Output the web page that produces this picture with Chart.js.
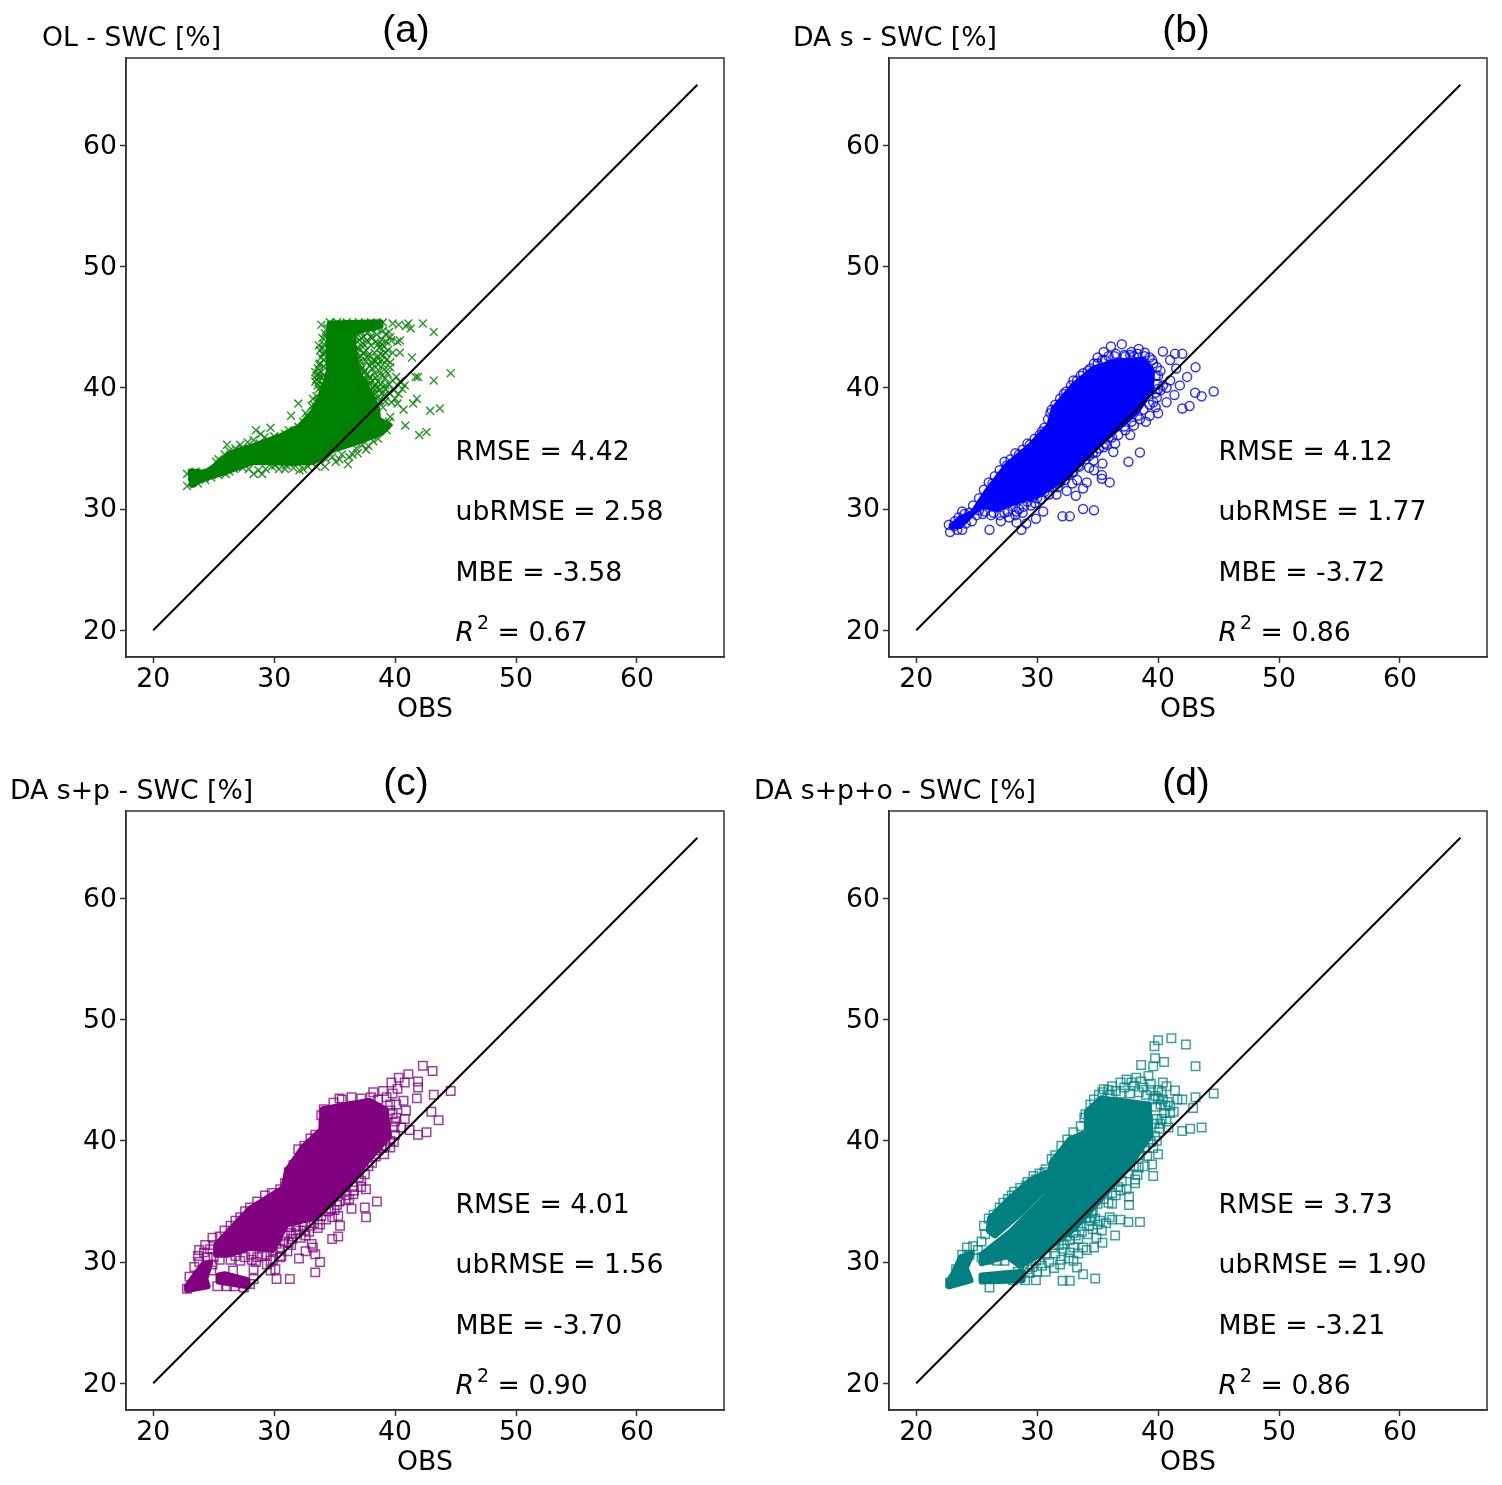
<!DOCTYPE html>
<html>
<head>
<meta charset="utf-8">
<script src="https://cdn.jsdelivr.net/npm/chart.js@4"></script>
<style>
  html, body { margin: 0; padding: 0; background: #fff; }
  #wrap { position: relative; width: 1502px; height: 1485px; overflow: hidden; }
  canvas { position: absolute; }
</style>
</head>
<body>
<div id="wrap">
  <canvas id="panelA" width="739" height="726" style="left:0;top:0"></canvas>
  <canvas id="panelB" width="762" height="726" style="left:740px;top:0"></canvas>
  <canvas id="panelC" width="739" height="726" style="left:0;top:753px"></canvas>
  <canvas id="panelD" width="762" height="726" style="left:740px;top:753px"></canvas>
</div>
<script>
const tickValues = [20, 30, 40, 50, 60];
const oneToOne = [[20, 20], [65, 65]];

// individual points, [OBS, SWC]
const olPoints = [
  [44.6,41.2],[43.2,40.6],[41.9,40.9],[41.7,40.9],[42.3,45.3],[43.2,44.6],[41.1,45.3],[41.3,44.9],[40.9,45.1],[41.4,42.5],[40.4,42.9],[40.4,43.9],[39.6,42.1],[41.8,39.1],[41.5,38.7],[40.7,38.2],[42.9,38.1],[43.7,38.3],[40.85,36.9],[42.6,36.35],[42,36.1],[39.6,37.6],
  [32,38.7],[31.4,37.7],[29.7,36.7],[28.5,36.5],[28.9,36.2],[26.1,35.3],[27.2,35.3],[36.1,33.7],[29,32.9],[28.3,32.9],[22.8,32.9],[22.8,31.9],[32.1,33.2],
  [33.9,45.2],[34.6,45.4],[35.2,45.4],[36,45.4],[37,45.4],[38,45.4],[39,45.4],[39.8,45.3],[40.3,45.2],
  [33.4,41.3],[33.5,41],[33.6,41.6],[33.7,40.5],[33.8,43.1],[33.9,41.3],[34,42.8],[34,43.3],[33.7,39.9],[33.4,40.5],[33.9,39.6],[34.2,44.5],[34.4,44.9],[34.1,42.3],[33.5,39.3],[33.8,42],
  [33.6,40.2],[33.8,40.9],[34,40.3],[34.1,41],[33.7,41.9],[33.9,42.5],[34.1,43.6],[34.2,42.9],[34.3,44.2],[34.1,41.8],[33.5,40.7],[34.2,40.6],[33.7,41.2],[34,39.9],[33.6,38.9],[33.9,38.7],[33.3,38.6],[33.2,39.1],[33.7,43.5],[34,44.1],
  [36.5,44.6],[36.8,44.2],[37.1,44.7],[37.4,44.2],[37.8,44.6],[38.1,44.1],[38.5,44.4],[38.9,44],[39.3,43.8],[39.7,43.9],[40.2,43.8],[36.6,43.5],[37,43.2],[37.3,43.7],[37.6,43.1],[38,43.5],[38.3,42.9],[38.7,43.3],[39,42.7],[39.4,43.1],[39.8,42.9],
  [36.5,42.5],[36.9,42],[37.2,42.6],[37.6,42.2],[37.9,41.8],[38.2,42.3],[38.6,41.9],[38.9,42.3],[36.7,41.2],[37.1,41],[37.5,41.4],[37.9,40.9],[38.3,41.2],[38.6,40.5],[38.9,41],[39.2,40.8],[39.5,40.3],[39.8,40.6],[40.1,40.9],[40.4,40.5],
  [37.2,40],[37.6,40.2],[38,39.8],[38.4,39.6],[38.8,39.9],[39.1,39.4],[39.5,39.6],[39.9,39.8],[40.3,39.5],[40.6,39.9],[40.8,40.2],[39.2,38.9],[39.7,38.8],[40,39.1],[40.2,38.7],[39,38.4],[38.7,38.9],
  [36.7,44.9],[37.3,45],[37.9,44.9],[38.5,44.9],[39,44.7],[39.5,44.6],[36.9,43.8],[37.7,43.9],[38.4,43.8],[39.1,43.4],[39.6,44.2],[36.7,43],[37,42.5],[37.4,42.9],[37.8,42.7],[38.1,42],[38.5,42.5],[38.8,42.8],[39.3,42.3],[36.9,40.7],[37.3,41.7],[37.7,41.1],[38.1,41.6],[38.4,40.8],[38.7,41.4],[39.1,41.5],[39.4,41.2],[37.9,40.3],[38.3,40.2],[38.8,40.3],[39.2,39.9],[37.4,39.4],[37.8,39.3],[38.2,39],[38.6,39.2],
  [36.6,44.3],[36.9,43.3],[37.2,44.1],[37.5,43.5],[36.8,42.8],[37.1,42.2],[37.4,41.2],[37.2,41.5],[37.7,42.5],[37.5,40.7],[37.8,40.6],[38.1,40.6],[38.2,40],[37,41.8],[36.8,41.6],[38,44.2],[38.6,43.6],[38.9,43.6],[39.2,44.4],[39.2,42.9],[38.4,42.2],[39,41.9],[39.6,41.7],[39.2,40.2],[38.5,40],[38.1,39.5],[38.9,39.5]
  ,[39,37],[39.5,37.2],[39.3,36.5],[38.6,35.8],[38.2,35.6],[37.8,35.2],[37.3,35.3],[36.8,35],[36.5,34.5],[35.6,34.5],[35.4,34.1],[34.8,34.3],[34.3,34.1],[33.8,33.9],[33.1,33.8],[32.4,33.3],[31,33.6],[30.4,33.3],[29.8,33.5],[27.4,33.4],[26.7,33.3],[26,32.9],[25.4,32.8],
  [37.6,34.9],[36.9,34.6],[36.2,34.3],[35.1,33.9],[34.2,33.5],[33.5,33.5],[32.8,33.5],[31.6,33.4],[30.9,33.3],[30.1,33.6],[29.3,33.3],[28.7,33.2],[27.9,33.3],[26.3,33.1],[25.7,33.1],[24.8,32.6],[24.3,32.4],[23.7,32.1],[23.2,32.2],[23.2,32.7],[23.5,33.1],[24,33],[24.5,33],
  [25.4,34.1],[25.9,34.5],[26.8,35],[27.8,35.5],[28.3,35.7],[29.2,35.9],[30,36],[30.9,36.2],[31.6,36.4],[32.4,37.2],[32.8,37.6],[33.1,38.5],[25.2,33.9],[26.3,34.8],[27.4,35],[28.8,35.4],[29.6,35.6],[30.5,35.9],[31.2,36.5],[32,36.8],[32.6,37.9]
];

const daSPoints = [
  [37,43.6],[36.1,43.4],[35.5,42.95],[35,42.5],[37.8,42.95],[38.4,43.2],[39.3,42.5],[40.4,43],[41.4,42.8],[42,42.8],[41,42.3],[43.1,41.7],[42.4,40.9],[41.8,40.2],[44.6,39.7],[43.6,39.3],[43.06,39.6],[41.35,39.4],[40.7,38.8],[42.6,38.5],[42,38.3],[40.2,39.8],[41,40.6],[41.5,41.6],[40.2,41.4],
  [39.8,38.4],[39.3,37.7],[38,36.9],[37.7,36.1],[36.45,35.4],[38.5,34.66],[37.55,33.9],[36.3,34.7],[35.76,35.3],[35.4,33.75],[34.66,34],[34.3,33.4],[34.7,33.2],[35.35,32.8],[35.35,32.5],[36,32.2],[34.1,32.2],[33.8,31.7],[33.3,32.4],[32.9,32.1],[33.2,31.1],[32.45,31.5],[31.6,31.2],[33.8,30],[34.7,29.9],[32.1,29.4],[32.7,29.4],[30.5,29.8],[29.9,29.2],[29.8,30.5],[29.1,28.8],[28.7,28.3],[28.3,28.9],[27,29],[26.06,28.3],[25,29.5],[22.8,28.1],[23.8,28.3],[22.7,28.7],
  [31.2,38.2],[32.2,39.5],[34.2,41.4],[30.4,36.4],[29.4,35.3],[28.5,34.5],[27.5,33.6],[26.3,32.1],[24.7,30.3],[23.8,29.8],[33,40.6],[33.6,41],[34.7,42],[35.6,42.3],[36.4,42.6],[37.2,42.7],[38,42.6],[38.9,42.6],[39.6,42],[40,41],[39.9,40.3],[40.4,40.2],[40.7,40],[39.9,39.2],[39.6,38.8],[40,37.9],[39,37.2],[38.5,37.4],[37.3,36.5],[36.7,36.1],[35.9,35.9],[35.5,35.1],[34.9,34.7],[34.3,34.4],[33.5,33.5],[33,33.1],[32.5,32.8],[31.9,32.2],[31.2,31.8],[30.6,31.4],[29.7,31],[29.2,30.6],[28.5,30],[28,30.2],[27.3,29.7],[26.4,29.7],[25.7,29.8],[25.2,29.9],[28.8,29.7],[28.2,29.5],[27.7,29.3],[30,30.9],
  [25.2,30.9],[25.6,31.6],[26,32.2],[26.5,32.7],[26.9,33.2],[27.3,33.9],[27.8,34.1],[28.2,34.6],[28.8,34.9],[29.2,35.4],[29.8,35.8],[30.2,36.1],[30.6,36.7],[30.9,37.4],[31.1,37.9],[31.5,38.6],[31.9,39.1],[32.4,39.7],[32.8,40.2],[33.3,40.6],[33.8,41.2],[34.4,41.6],[35,42],[35.4,42.3],[35.9,42.6],[36.5,42.8],[37.3,42.6],[37.7,42.7],[38.3,42.8],[38.9,42.9],[39.5,42.3],[39.9,41.7],[39.8,41],[40,39.9],[39.8,39.6],
  [39.3,38.6],[38.8,38.2],[38.3,37.7],[37.8,37.2],[37.2,36.8],[36.2,35.9],[35.6,35.4],[35.1,35],[34.6,34.6],[34,34.1],[33.4,33.6],[32.9,33],[32.3,32.4],[31.7,31.8],[31,31.2],[30.3,30.8],[29.5,30.3],[28.9,30.2],[28.3,29.8],[27.6,29.8],[26.9,29.5],[26.2,29.5],[25.5,29.6],[24.6,29],[24.1,28.8],[23.4,28.3],[23.1,28.6],[23.2,29],[23.5,29.3],[24,29.6],[24.4,29.7]
];

const daSpPoints = [
  [42.3,46.2],[43.1,45.75],[41.1,45.5],[40.3,45.2],[41.9,44.9],[44.6,44.1],[43.2,43.8],[41.8,43.5],[41.9,44.4],[40.8,44.8],[39.7,44.8],[39,44.1],[38.2,44],[40.7,43.3],[40.1,43],[40.9,42.5],[40.1,41.9],[40.8,41.8],[43,42.4],[43.6,41.7],[41.2,40.9],[42.6,40.7],[41.9,40.5],[39.9,41.1],[40.5,41.1],[39.6,39.45],[38.6,39.2],[38.1,38.2],[37.5,37.25],[37.6,36],[38.5,35],[37.5,34.5],[37.6,33.7],[36.4,34.4],[36.55,35.6],[35.3,33.8],[34.8,33.7],[35.45,33],[35.3,32.1],[34.8,31.9],[33.8,33.1],[33.1,31.5],[33.2,31.2],[32.6,30.9],[33.4,30.65],[33.8,30],[32.05,30.3],[33.4,29.15],[31.3,28.6],[30.2,28.6],[30.1,29.4],[30.5,30.4],[29.7,30.1],[28.3,29.4],[28.15,30.2],[26.1,28],[28,28.2],[23.7,30.5],[24.7,31.05],[22.8,27.8],
  [25.5,32.1],[26.4,33],[27.2,33.7],[28,34.5],[29.25,35.5],[30.5,36],[31.2,37.4],[32,39.3],[33.4,40.5],[34.1,41.6],[34.1,42.6],[34.9,43.15],[36.4,43.6],[37.2,43.5],[35.6,43.4],[33.9,42.1],[38.6,43.4],[39.3,43.6],[39.8,43.9],[40.2,44.3],[39.6,43],[39.8,42.2],[40,40.5],[39.6,40],[39.2,39.6],[38.4,38.7],[37.8,37.9],[37,37],[36.5,36.2],[36,35.5],[35.4,35],[34.7,34.4],[33.9,33.8],[33.3,33.2],[32.5,32.6],[31.8,32.3],[31.2,31.6],[30.5,31.1],[29.9,31],[29,30.5],[27.6,30.4],[26.8,30.5],[24.2,30.8],[25,31.4],[29.4,29.8],[29.7,29.3],[26.6,29.3],[24.9,29.8],
  [23.8,31],[24.3,31.4],[24.9,32],[25.9,32.6],[26.8,33.4],[27.6,34.2],[28.6,35],[29.8,35.7],[30.9,36.5],[31.6,38],[32.5,39.6],[33,40.2],[35.4,43.5],[38,43.6],[39.6,42.5],[40,41.6],[39.9,39.9],[39.1,38.9],[38.9,39.4],[37.2,36.7],[36.2,35.2],[35,34.3],[34.3,33.5],[33.6,32.8],[32.9,32.5],[32.2,32],[32.6,32.2],[31.5,31.9],[31.1,30.9],[30.6,30.5],[29.4,30.6],[28.6,30.4],[28.1,30.6],[27.2,30.1],[26.4,30.2],[25.5,30.2],[25,30.4],[24.5,30.4],[23.8,30],[23.4,29.6],[23,28.8],[24.8,29.3],[25.3,28],[26.7,28],[27.5,27.9],[28.3,28.6],[28.5,30],[29.9,30.2],
  [30.5,32.8],[31.2,32.9],[31.8,32.9],[32.4,33],[33,33],[30.3,32.1],[30.9,32.2],[31.4,32.4],[32,32.6],[30.2,31.5],[30.8,31.7],[31.4,31.4],[28.7,31.3],[29.3,31.4],[27.2,31.2],[27.8,31.5],[26.3,30.8],[26.9,31],[29.8,32],[34.5,34.2],[35.2,34.7],[35.9,35.1],[36.6,35.9],[37.2,36.2]
];

const daSpoPoints = [
  [41.1,48.45],[40,48.3],[39.7,47.8],[42.3,47.95],[39.75,46.8],[40.5,46.5],[38.6,46.25],[39.6,46.15],[43.1,46.15],[39.2,45.35],[38.2,45.2],[37.4,45.05],[36.9,44.8],[36.2,44.5],[35.5,44.25],[40.4,44.8],[40.7,44.5],[41.4,44.15],[44.6,43.9],[43.1,43.6],[42,43.4],[42.9,42.7],[41,42.9],[40.2,43],[39.9,41.8],[40.7,41.6],[42,40.8],[42.65,41],[43.6,41.1],[40.85,41.1],[39.75,40.4],[39.6,39.4],[39.1,38.75],[39.5,38.05],[39.6,37.1],[38.4,37.8],[38.1,36.8],[38.1,36.5],[37.4,36],[37.6,34.7],[36.9,35.9],[36.2,34.8],[37.55,33.3],[38.5,33.3],[36.45,32.2],[36.2,33.5],[35.2,33.4],[34.4,33.4],[35.35,32.6],[35.4,31.6],[34.7,31.2],[33.8,31.2],[33,31.2],[32.2,31.5],[32,30.2],[33,30.1],[33.3,29.55],[33.8,29],[34.8,28.65],[32.7,28.45],[32.1,28.45],[29.9,28.5],[30.4,29.7],[29,28.5],[26.06,27.9],[23.8,30.6],[22.8,28.3],
  [34.4,43],[34,42.2],[33,40.7],[31.2,38.5],[30.7,37.65],[29.7,37.1],[28.6,36.1],[27.6,35.2],[26.4,33.9],[25.7,32.3],[24.7,31.3],[35.1,43.8],[35.9,44.2],[37.8,44.8],[38.6,44.9],[39.4,44.7],[40,44.2],[40.3,44],[40.8,43.2],[41.6,43.4],[41.3,42.4],[40.5,42.3],[39.8,42.8],[40.1,41],[40,38.9],[38.9,37.9],[38.3,37.2],[37.6,35.4],[36.5,35.5],[35.9,34.9],[36.9,33.5],[35.7,33.2],[35,33.1],[34.6,32.7],[34.2,32.3],[33.4,31.9],[32.7,31.8],[31.5,30.7],[31,30],[30.2,30.2],[29.6,29.6],[28.8,29.9],[24.2,31.2],[25.4,31.7],[26.9,34.5],[28.1,35.8],[29.2,36.6],[30.2,37.3],
  [35.4,44],[36.5,44.1],[37.2,44.4],[38,44.5],[38.8,44.4],[39.4,44.2],[39.8,43.7],[36,43.8],[36.9,43.9],[37.7,43.9],[38.4,44],[39,43.8],[39.6,43.4],[40,43.5],[40.4,43.4],[40.6,42.9],[41,42.3],[40.3,41.8],[40.2,41.4],[39.7,41.4],[39.9,40],[39.4,39.9],[38.9,39.4],[38.5,38.8],[38,37.9],[37.5,37.3],[37,36.7],[36.7,36.2],[36.2,35.7],[35.5,35.2],[35,34.8],[34.5,34],[34,33.6],[33.4,33],[33,32.4],[32.4,32.1],[31.8,31.4],[31.3,31.2],[30.7,30.6],[29.9,30.1],[29.2,29.4],[28.4,29.2],[28,28.5],[27.3,30.1],[26.7,30.1],[26,30.2],[25.4,30.4],[25.1,31],[24.4,30.6],[23.9,30.1],[23.3,29.4],[33.6,33.7],[34.8,33.6],[36,33.7],[34.6,34.2],
  [25.6,33],[26,33.6],[26.8,34],[27.2,34.9],[27.9,35.5],[28.4,35.5],[29.1,36.3],[29.9,36.8],[30.6,37.4],[31.5,38.8],[32,39.6],[32.5,40.1],[33.6,41.2],[33.9,41.9],[34.7,43.4],
  [32.1,31.1],[32.7,30.8],[33.4,30.7],[34.1,31],[34.9,32],[33.7,32.5],[34.3,33],[33.2,32.2],[32.6,30.3],[31.4,29.5],[31.9,29.8],[30.7,29.2],[30,29.2],[29.4,29.1]
];

// outlines of the parts where the markers pile up into solid colour
const olSolid = [
  [[23.1,33.1],[24.3,33],[25.2,33.6],[26.4,34.6],[28,35.1],[30.5,36],[32.1,36.8],[33.2,38],[34,39.6],[34.5,41.3],[34.5,43.6],[34.6,45.3],[38.8,45.4],[38.8,45.1],[36.5,44.6],[36.6,43],[36.9,41.3],[37.7,40],[38.5,38.4],[38.6,37.4],[39.5,36.9],[38.9,36.3],[36.8,35.5],[34.9,34.9],[33.25,33.9],[31.6,33.8],[28.3,33.9],[26.1,33.1],[25.1,32.8],[23.9,32.4],[23.2,32]]
];
const daSSolid = [
  [[23,28.6],[23.6,29.2],[24.7,29.7],[25.8,31.4],[27.5,33.6],[29.4,35.2],[31,36.9],[31.4,38.3],[33,40.2],[34.7,41.6],[36.6,42.2],[38.8,42.3],[39.5,41.4],[39.4,39.8],[38.2,38],[36,36.1],[34.4,34.7],[32.2,32.5],[30,31.1],[28.5,30.7],[26.7,30],[25.3,30.3],[24.2,29.2],[23.6,28.6]]
];
const daSpSolid = [
  [[25.2,30.6],[25.2,31.4],[26.4,32.7],[28,34.4],[30.75,36.1],[31.1,37.6],[32.4,39.5],[33.9,40.9],[34,42.6],[37.9,43.3],[39.2,42.6],[39.5,40.4],[37.6,38.2],[36,36.1],[33.5,33.7],[31,33.1],[29.9,31],[28,31.2],[26.1,30.6]],
  [[22.8,28],[23.5,29],[24.2,29.9],[24.7,29.9],[24.3,28.6],[24.5,28],[22.8,27.7]],
  [[25.4,28.9],[25.9,29],[27.8,28.5],[27.8,28],[25.4,28.4]]
];
const daSpoSolid = [
  [[25.4,30.6],[27.8,32.5],[30.8,35.5],[31.2,38.2],[32.7,40.1],[34.1,40.7],[34.1,42.4],[35.3,43.5],[39.2,43],[39.4,40.5],[37.6,37.9],[35,34.9],[33,32.7],[30,30.5],[28.6,29.7],[27.5,30.5],[25.4,29.9]],
  [[26.1,33.6],[27.6,35.1],[29.4,36.7],[30.8,37.4],[31,36.4],[28.6,34],[26.5,32.2],[26,32.6]],
  [[22.7,28.45],[23.1,29.1],[23.7,30.4],[24.6,30.7],[24.1,29.5],[24.5,28.5],[22.7,28]],
  [[25.4,28.9],[28.8,29.2],[28.8,28.5],[25.4,28.4]]
];

const statLabels = ["RMSE", "ubRMSE", "MBE"];
const olStats = ["4.42", "2.58", "-3.58", "0.67"];
const daSStats = ["4.12", "1.77", "-3.72", "0.86"];
const daSpStats = ["4.01", "1.56", "-3.70", "0.90"];
const daSpoStats = ["3.73", "1.90", "-3.21", "0.86"];

const FONT = '"DejaVu Sans"';
const FONT_SIZE = 26.7;

function toXY(list) {
  return list.map((p) => ({ x: p[0], y: p[1] }));
}

// title, panel letter, box and stats all go on the canvas
const panelText = {
  id: "panelText",
  afterDatasetsDraw(chart, args, opts) {
    const ctx = chart.ctx;
    const a = chart.chartArea;
    const sx = chart.scales.x;
    const sy = chart.scales.y;
    ctx.save();
    ctx.strokeStyle = "#333";
    ctx.lineWidth = 1.5;
    ctx.strokeRect(a.left, a.top, a.right - a.left, a.bottom - a.top);

    ctx.fillStyle = "#000";
    ctx.textBaseline = "alphabetic";
    ctx.textAlign = "left";
    ctx.font = `${FONT_SIZE}px ${FONT}`;
    ctx.fillText(opts.title, opts.titleX, 46);
    ctx.font = '39px "Liberation Sans"';
    ctx.textAlign = "center";
    ctx.fillText(opts.letter, opts.letterX, 42);

    ctx.textAlign = "left";
    ctx.font = `${FONT_SIZE}px ${FONT}`;
    const x = sx.getPixelForValue(45);
    statLabels.forEach((name, i) => {
      ctx.fillText(`${name} = ${opts.stats[i]}`, x, sy.getPixelForValue(34.07 - i * 5));
    });
    const yR = sy.getPixelForValue(19.12);
    ctx.font = `italic ${FONT_SIZE}px ${FONT}`;
    ctx.fillText("R", x, yR);
    const rw = ctx.measureText("R").width;
    ctx.font = `19px ${FONT}`;
    ctx.fillText("2", x + rw + 3, yR - 12);
    ctx.font = `${FONT_SIZE}px ${FONT}`;
    ctx.fillText(` = ${opts.stats[3]}`, x + rw + 15, yR);
    ctx.restore();
  }
};

function drawPanel(id, cfg) {
  const solidSets = cfg.solid.map((shape) => ({
    data: toXY(shape.concat([shape[0]])),
    showLine: true,
    fill: "shape",
    tension: 0,
    pointRadius: 0,
    borderWidth: 6,
    borderJoinStyle: "round",
    borderCapStyle: "round",
    borderColor: cfg.color,
    backgroundColor: cfg.color
  }));

  new Chart(document.getElementById(id), {
    type: "scatter",
    data: {
      datasets: [
        {
          data: toXY(oneToOne),
          showLine: true,
          pointRadius: 0,
          borderColor: "#000",
          borderWidth: 2
        },
        {
          data: toXY(cfg.points),
          pointStyle: cfg.marker,
          pointRadius: cfg.radius,
          pointBorderWidth: 1.5,
          pointBorderColor: cfg.markerColor,
          pointBackgroundColor: "rgba(0,0,0,0)"
        },
        ...solidSets
      ]
    },
    options: {
      responsive: false,
      animation: false,
      devicePixelRatio: 1,
      layout: {
        autoPadding: false,
        padding: { left: 0, right: 15, top: 58, bottom: 0 }
      },
      plugins: {
        legend: { display: false },
        tooltip: { enabled: false },
        panelText: cfg.text
      },
      scales: {
        x: {
          type: "linear",
          min: 17.75,
          max: 67.2,
          afterBuildTicks: (axis) => { axis.ticks = tickValues.map((v) => ({ value: v })); },
          afterFit: (axis) => { axis.height = 69; },
          grid: { drawOnChartArea: false, color: "#333", tickLength: 6, tickWidth: 1.5 },
          border: { color: "#333", width: 1.5 },
          ticks: { color: "#000", font: { family: "DejaVu Sans", size: FONT_SIZE }, padding: 1, maxRotation: 0, autoSkip: false },
          title: { display: true, text: "OBS", color: "#000", font: { family: "DejaVu Sans", size: FONT_SIZE }, padding: 0 }
        },
        y: {
          type: "linear",
          min: 17.8,
          max: 67.2,
          afterBuildTicks: (axis) => { axis.ticks = tickValues.map((v) => ({ value: v })); },
          afterFit: (axis) => { axis.width = cfg.axisWidth; },
          grid: { drawOnChartArea: false, color: "#333", tickLength: 6, tickWidth: 1.5 },
          border: { color: "#333", width: 1.5 },
          ticks: { color: "#000", font: { family: "DejaVu Sans", size: FONT_SIZE }, padding: 3, labelOffset: 1.5, autoSkip: false }
        }
      }
    },
    plugins: [panelText]
  });
}

function mainEvent() {
  drawPanel("panelA", {
    color: "#008000", markerColor: "rgba(0,128,0,0.8)", marker: "crossRot", radius: 5.6,
    points: olPoints, solid: olSolid, axisWidth: 126,
    text: { title: "OL - SWC [%]", titleX: 42, letter: "(a)", letterX: 406, stats: olStats }
  });
  drawPanel("panelB", {
    color: "#0000ff", markerColor: "rgba(0,0,255,0.8)", marker: "circle", radius: 4.5,
    points: daSPoints, solid: daSSolid, axisWidth: 149,
    text: { title: "DA s - SWC [%]", titleX: 53, letter: "(b)", letterX: 446, stats: daSStats }
  });
  drawPanel("panelC", {
    color: "#800080", markerColor: "rgba(128,0,128,0.75)", marker: "rect", radius: 6,
    points: daSpPoints, solid: daSpSolid, axisWidth: 126,
    text: { title: "DA s+p - SWC [%]", titleX: 10, letter: "(c)", letterX: 406, stats: daSpStats }
  });
  drawPanel("panelD", {
    color: "#008080", markerColor: "rgba(0,128,128,0.75)", marker: "rect", radius: 6,
    points: daSpoPoints, solid: daSpoSolid, axisWidth: 149,
    text: { title: "DA s+p+o - SWC [%]", titleX: 14, letter: "(d)", letterX: 446, stats: daSpoStats }
  });
}
document.addEventListener("DOMContentLoaded", mainEvent);
</script>
</body>
</html>
